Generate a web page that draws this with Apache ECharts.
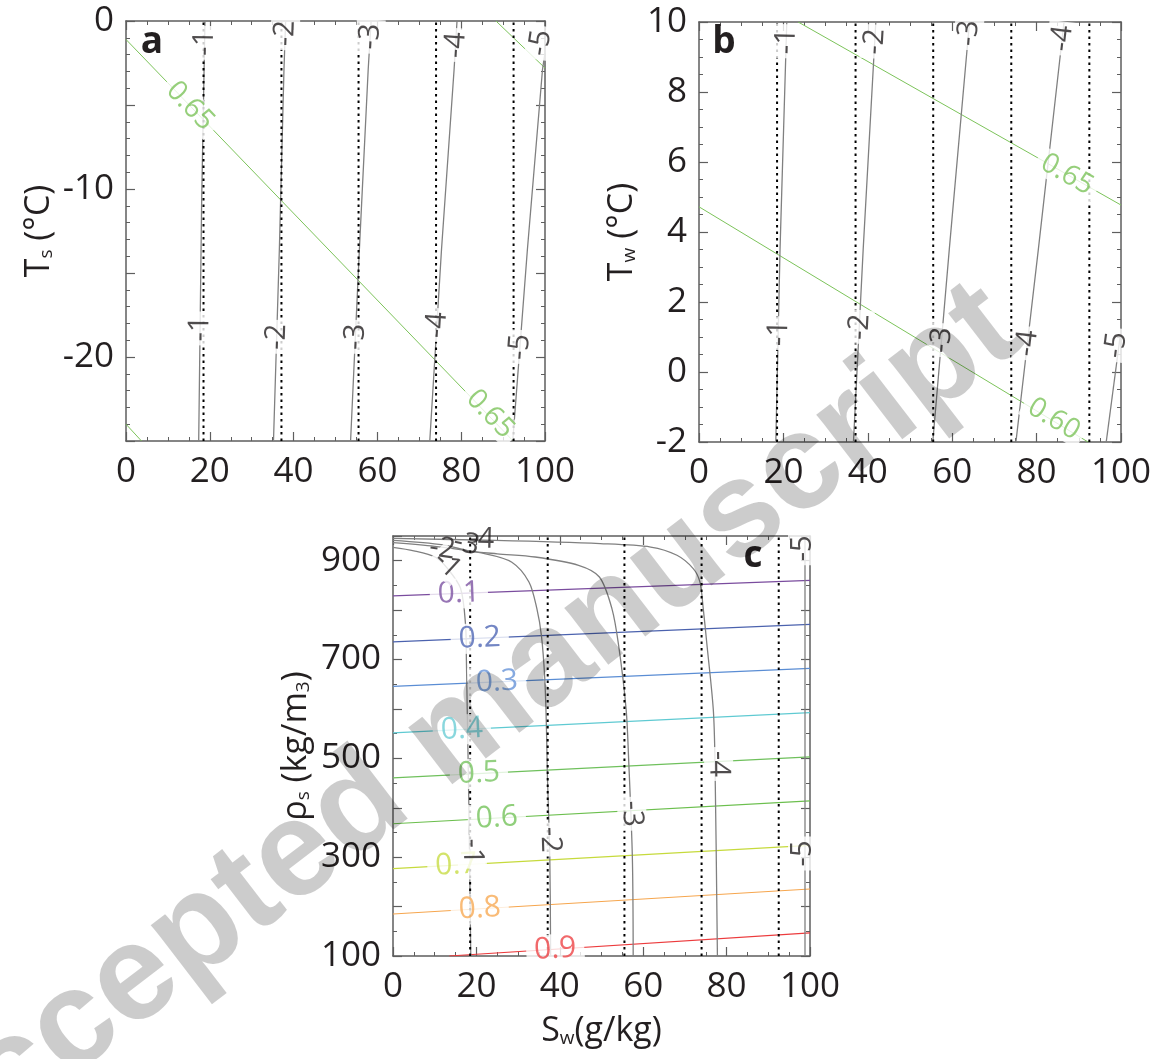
<!DOCTYPE html>
<html><head><meta charset="utf-8">
<script src="https://cdn.jsdelivr.net/npm/echarts@6/dist/echarts.min.js"></script>
<style>html,body{margin:0;padding:0;background:#fff}#c{width:1156px;height:1059px}</style>
</head><body><div id="c"></div><script>
// ---------------- data ----------------
const levels = ['-1','-2','-3','-4','-5'];
const freezeS = [18.5, 37.1, 55.5, 74.0, 92.5];          // dotted lines (g/kg)

// panel a : Ts vs Sw
const aM1 = [[17.35,-25],[18.06,-10.65],[18.85,0]];
const aM2 = [[35.2,-25],[36.6,-13.6],[37.7,-2.9],[38.1,0]];
const aM3 = [[53.6,-25],[55.7,-13.6],[57.8,-2.9],[58.5,0]];
const aM4 = [[72.5,-25],[75.3,-13.6],[78.3,-2.9],[79.0,0]];
const aM5 = [[92.3,-25],[95.8,-13.6],[99.4,-2.9],[100,-1.9]];
const aG065 = [[0,-1.1],[92.4,-25]];
const aGupper = [[88.3,0],[100,-2.8]];
const aGlower = [[0,-24.0],[3.7,-25]];
const aNumLabels = [[18.75,-1.3,0],[17.68,-18.3,0],[38.0,-0.73,1],[35.96,-18.8,1],[58.3,-0.93,2],[54.74,-18.8,2],[78.7,-1.43,3],[74.2,-18.1,3],[98.9,-1.3,4],[94.0,-19.4,4]];
const aGreenLabels = [[15.3,-5.06,'0.65'],[86.9,-23.4,'0.65']];

// panel b : Tw vs Sw
const bM1 = [[18.2,-2],[19.2,3.49],[20.8,10]];
const bM2 = [[36.6,-2],[38.9,3.49],[41.9,10]];
const bM3 = [[55.4,-2],[59.3,3.49],[64.1,10]];
const bM4 = [[75.1,-2],[80.4,3.49],[86.5,10]];
const bM5 = [[96.5,-2],[100,1.2]];
const bG065 = [[23.5,10],[100,4.77]];
const bG060 = [[0,4.72],[92.2,-2]];
const bNumLabels = [[20.7,9.45,0],[18.9,1.11,0],[41.65,9.44,1],[38.05,1.29,1],[63.9,9.68,2],[57.5,0.91,2],[86.05,9.53,3],[77.8,0.82,3],[98.8,0.77,4]];
const bGreenLabels = [[87.2,5.64,'0.65',0],[84.1,-1.35,'0.60',1]];

// panel c : rho_s vs Sw
const cM1 = [[0,927],[5,920],[10.2,907],[13,885],[16.2,844],[17.4,770],[17.6,700],[17.8,600],[18.2,400],[18.65,100]];
const cM2 = [[0,936.6],[10,929],[22.2,914],[28.5,897],[32.6,857],[34.5,803],[35.6,748],[36.4,661],[36.8,560],[37.0,474],[37.6,301],[37.8,100]];
const cM3 = [[0,941],[12,932],[18.2,920],[25,914],[34.1,907.5],[44.5,890.7],[49.5,867],[52.5,803],[54.1,729],[55.9,600],[56.5,500],[57.4,300],[57.6,100]];
const cM4 = [[0,945],[24.6,941],[49.7,934.5],[61.8,927.7],[68.1,911],[72,884],[73.6,857],[74.4,803],[75.3,729],[76.8,600],[77.2,500],[77.8,100]];
const cM5 = [[98.8,100],[98.8,950]];
const cFracLevels = ['0.1','0.2','0.3','0.4','0.5','0.6','0.7','0.8','0.9'];
const cF01 = [[0,828.7],[100,860]];
const cF02 = [[0,735.6],[100,771]];
const cF03 = [[0,645.5],[100,682]];
const cF04 = [[0,551.6],[100,592.7]];
const cF05 = [[0,460.6],[100,502.8]];
const cF06 = [[0,367.7],[100,414]];
const cF07 = [[0,276.8],[100,323.7]];
const cF08 = [[0,185],[100,235.6]];
const cF09 = [[13.5,100],[100,147]];
const cFracLabelS = [15.8,20.8,24.9,16.5,20.6,24.9,15.2,20.8,38.9];
const cNumLabels = [[13.0,892,0],[11.8,924.5,1],[17.6,934,2],[21.2,943.5,3],[98.2,925,4],[19.0,311.5,0],[37.7,335.6,1],[57.3,388,2],[78.1,488.7,3],[98.2,307.6,4]];

// axis tick values
const xTick = {min:0, max:100, interval:20};
const aYTick = {min:-25, max:0, interval:5};
const bYTick = {min:-2, max:10, interval:2};
const cYTick = {min:100, max:950, interval:100};

// ---------------- styles ----------------
const FONT = '"Open Sans","Noto Sans",sans-serif';
const INK = '#231f20';
const AX = '#5e5e5e';
const GREY = '#808080';
const GREEN = '#7cc35a';
const cFracColors = ['#7a4c9e','#4b62ae','#5a8dd4','#5fcad2','#6fc05c','#6cbf4e','#c6da3c','#f6a64e','#ec3b3d'];
const cFracText = ['#7d52a3','#5068b5','#6694d8','#6ccdd4','#78c462','#74c35a','#c8dc45','#f7aa55','#ee4446'];
const aNumDirs = Array(10).fill('up');
const bNumDirs = Array(9).fill('up');
const cNumDirs = ['right','right','right','right','up','down','down','down','down','up'];
const cNumBg = [true,false,false,false,true,true,true,true,true,true];
const TICKFS = 35, NUMFS = 29, GREENFS = 28, FRACFS = 30;

const grids = [
  {left:126, top:21, width:419, height:420},
  {left:699, top:22, width:422, height:420},
  {left:393, top:536, width:417, height:420}
];

function sub(main, s) { return `{t|${main}}{s|${s}}`; }
const nameRich = {
  t:{fontSize:34, fontFamily:FONT, color:INK},
  s:{fontSize:19, fontFamily:FONT, color:INK, verticalAlign:'bottom'}
};

function xAxisDef(gi, pos, withLabel, extra) {
  return Object.assign({
    gridIndex:gi, type:'value', position:pos, min:xTick.min, max:xTick.max, interval:xTick.interval,
    axisLine:{show:true, onZero:false, lineStyle:{color:AX, width:1.5}},
    axisTick:{show:true, inside:true, length:9, lineStyle:{color:AX, width:1.2}},
    minorTick:{show:true, splitNumber:4, length:4, lineStyle:{color:AX, width:1}},
    splitLine:{show:false}, minorSplitLine:{show:false},
    axisLabel:{show:withLabel, fontSize:TICKFS, color:INK, fontFamily:FONT, margin:14},
    silent:true
  }, extra||{});
}
function yAxisDef(gi, pos, withLabel, tk, minor, fmt, extra) {
  return Object.assign({
    gridIndex:gi, type:'value', position:pos, min:tk.min, max:tk.max, interval:tk.interval,
    axisLine:{show:true, onZero:false, lineStyle:{color:AX, width:1.5}},
    axisTick:{show:true, inside:true, length:9, lineStyle:{color:AX, width:1.2}},
    minorTick:{show:true, splitNumber:minor, length:4, lineStyle:{color:AX, width:1}},
    splitLine:{show:false}, minorSplitLine:{show:false},
    axisLabel:{show:withLabel, fontSize:TICKFS, color:INK, fontFamily:FONT, margin:12, formatter:fmt},
    silent:true
  }, extra||{});
}
const fmtA = v => (v % 10 === 0 ? String(v) : '');
const fmtB = v => String(v);
const fmtC = v => ((v - 100) % 200 === 0 ? String(v) : '');

const xAxes = [
  xAxisDef(0,'bottom',true), xAxisDef(1,'bottom',true),
  xAxisDef(2,'bottom',true,{name:sub('S','w')+'{t|(g/kg)}', nameLocation:'middle', nameGap:58, nameTextStyle:{rich:nameRich}}),
  xAxisDef(0,'top',false), xAxisDef(1,'top',false), xAxisDef(2,'top',false)
];
const yAxes = [
  yAxisDef(0,'left',true,aYTick,5,fmtA,{name:sub('T','s')+'{t| (°C)}', nameLocation:'middle', nameGap:70, nameRotate:90, nameTextStyle:{rich:nameRich}}),
  yAxisDef(1,'left',true,bYTick,4,fmtB,{name:sub('T','w')+'{t| (°C)}', nameLocation:'middle', nameGap:60, nameRotate:90, nameTextStyle:{rich:nameRich}}),
  yAxisDef(2,'left',true,cYTick,2,fmtC,{name:sub('ρ','s')+'{t| (kg/m}{s|3}{t|)}', nameLocation:'middle', nameGap:80, nameRotate:90, nameTextStyle:{rich:nameRich}}),
  yAxisDef(0,'right',false,aYTick,5,fmtA), yAxisDef(1,'right',false,bYTick,4,fmtB), yAxisDef(2,'right',false,cYTick,2,fmtC)
];

function line(gi, data, color, width, type, z, smooth) {
  return {type:'line', xAxisIndex:gi, yAxisIndex:gi, data, symbol:'none', showSymbol:false, smooth:smooth||false,
    lineStyle:{color, width, type:type||'solid', cap:'butt'}, z, silent:true, animation:false, clip:true};
}

const series = [];
[aG065, aGupper, aGlower].forEach(d => series.push(line(0, d, GREEN, 1, 'solid', 2)));
[aM1,aM2,aM3,aM4,aM5].forEach(d => series.push(line(0, d, GREY, 1.3, 'solid', 3)));
[bG065, bG060].forEach(d => series.push(line(1, d, GREEN, 1, 'solid', 2)));
[bM1,bM2,bM3,bM4,bM5].forEach(d => series.push(line(1, d, GREY, 1.3, 'solid', 3)));
[cF01,cF02,cF03,cF04,cF05,cF06,cF07,cF08,cF09].forEach((d,i) => series.push(line(2, d, cFracColors[i], 1.2, 'solid', 2)));
[cM1,cM2,cM3,cM4].forEach(d => series.push(line(2, d, GREY, 1.3, 'solid', 3, 0.3)));
series.push(line(2, cM5, GREY, 1.3, 'solid', 3));
const yr = [[aYTick.min,aYTick.max],[bYTick.min,bYTick.max],[cYTick.min,cYTick.max]];
[0,1,2].forEach(gi => freezeS.forEach(s => series.push(line(gi, [[s,yr[gi][0]],[s,yr[gi][1]]], '#000', 2, [2.5,4], 4))));

const chart = echarts.init(document.getElementById('c'), null, {renderer:'canvas'});
const letterStyle = t => ({text:t, font:'bold 37px "Open Sans"', fill:INK, textAlign:'center', textVerticalAlign:'middle', align:'center', verticalAlign:'middle'});
const base = {
  animation:false, backgroundColor:'#fff',
  grid: grids.map(g => Object.assign({containLabel:false}, g)),
  xAxis: xAxes, yAxis: yAxes, series: series,
  graphic: [
    {type:'text', x:152, y:42, z:20, style:letterStyle('a')},
    {type:'text', x:724, y:42, z:20, style:letterStyle('b')},
    {type:'text', x:753, y:556, z:20, style:letterStyle('c')},
    {type:'text', x:455, y:735, rotation:37.5*Math.PI/180, z:100, silent:true,
      style:{text:'Accepted manuscript', font:'bold 136px "Liberation Sans"', fill:'#000', opacity:0.2,
        textAlign:'center', textVerticalAlign:'middle', align:'center', verticalAlign:'middle'}}
  ]
};
chart.setOption(base);

// ---- labels, rotated along their contour ----
function distSeg(q, a, b) {
  const vx=b[0]-a[0], vy=b[1]-a[1];
  const L=vx*vx+vy*vy || 1;
  let t=((q[0]-a[0])*vx+(q[1]-a[1])*vy)/L; t=Math.max(0,Math.min(1,t));
  const px=a[0]+t*vx-q[0], py=a[1]+t*vy-q[1];
  return Math.sqrt(px*px+py*py);
}
function angleAt(gi, data, pt, dir) {
  const f = {xAxisIndex:gi, yAxisIndex:gi};
  const P = data.map(p => chart.convertToPixel(f, p));
  const q = chart.convertToPixel(f, pt);
  let best=0, bd=Infinity;
  for (let i=0;i<P.length-1;i++){ const d=distSeg(q,P[i],P[i+1]); if(d<bd){bd=d;best=i;} }
  let dx=P[best+1][0]-P[best][0], dy=P[best+1][1]-P[best][1];
  if ((dir==='up'&&dy>0)||(dir==='down'&&dy<0)||(dir==='right'&&dx<0)) {dx=-dx;dy=-dy;}
  return Math.atan2(-dy,dx)*180/Math.PI;
}
function interpY(data, x) {
  for (let i=0;i<data.length-1;i++){
    const a=data[i], b=data[i+1];
    if ((x-a[0])*(x-b[0])<=0) return a[1]+(b[1]-a[1])*(x-a[0])/(b[0]-a[0]);
  }
  return data[data.length-1][1];
}
function labelSeries(gi, items, fontSize, z) {
  return {type:'scatter', xAxisIndex:gi, yAxisIndex:gi, symbolSize:1, itemStyle:{color:'rgba(0,0,0,0)'},
    z, silent:true, animation:false, clip:false,
    label:{show:true, position:'inside', formatter:p=>p.name, fontSize, fontFamily:FONT, color:INK, lineHeight:fontSize,
      backgroundColor:'#fff', padding:[0,4]},
    data: items};
}
const aLines=[aM1,aM2,aM3,aM4,aM5], bLines=[bM1,bM2,bM3,bM4,bM5], cLines=[cM1,cM2,cM3,cM4,cM5];
const bGreens=[bG065,bG060];
const cFr=[cF01,cF02,cF03,cF04,cF05,cF06,cF07,cF08,cF09];

const labelSer = [];
labelSer.push(labelSeries(0, aNumLabels.map((l,i)=>({value:[l[0],l[1]], name:levels[l[2]], label:{rotate:angleAt(0,aLines[l[2]],[l[0],l[1]],aNumDirs[i])}})), NUMFS, 11));
labelSer.push(labelSeries(0, aGreenLabels.map(l=>({value:[l[0],l[1]], name:l[2], label:{color:GREEN, padding:[0,6], rotate:angleAt(0,aG065,[l[0],l[1]],'right')}})), GREENFS, 10));
labelSer.push(labelSeries(1, bNumLabels.map((l,i)=>({value:[l[0],l[1]], name:levels[l[2]], label:{rotate:angleAt(1,bLines[l[2]],[l[0],l[1]],bNumDirs[i])}})), NUMFS, 11));
labelSer.push(labelSeries(1, bGreenLabels.map(l=>({value:[l[0],l[1]], name:l[2], label:{color:GREEN, padding:[0,6], rotate:angleAt(1,bGreens[l[3]],[l[0],l[1]],'right')}})), GREENFS, 10));
labelSer.push(labelSeries(2, cFracLabelS.map((s,i)=>{const y=interpY(cFr[i],s); return {value:[s,y], name:cFracLevels[i], label:{color:cFracText[i], padding:[0,8], rotate:angleAt(2,cFr[i],[s,y],'right')}};}), FRACFS, 10));
labelSer.push(labelSeries(2, cNumLabels.map((l,i)=>({value:[l[0],l[1]], name:levels[l[2]], label:{rotate:angleAt(2,cLines[l[2]],[l[0],l[1]],cNumDirs[i]), backgroundColor: cNumBg[i]?'#fff':'transparent', padding: cNumBg[i]?[0,4]:0}})), NUMFS, 11));

chart.setOption({series: series.concat(labelSer)});
</script></body></html>
